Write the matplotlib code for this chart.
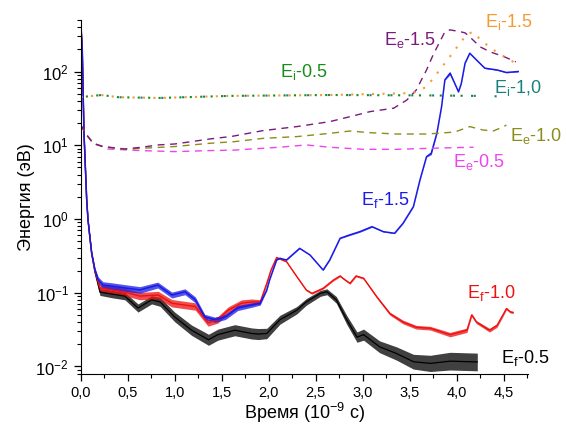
## energy vs time, log scale; curves
import numpy as np
import matplotlib
matplotlib.use('Agg')
import matplotlib.pyplot as plt
from matplotlib import ticker
from matplotlib.ticker import MultipleLocator, LogLocator

plt.rcParams['font.family'] = ['Liberation Sans', 'DejaVu Sans']
plt.rcParams['mathtext.fontset'] = 'custom'
plt.rcParams['mathtext.rm'] = 'Liberation Sans'
plt.rcParams['mathtext.it'] = 'Liberation Sans'

######## data (time in 1e-9 s, energy in eV)
# E_f, 1.5 (blue)
t_f15 = [0, 0.017, 0.035, 0.064, 0.078, 0.099, 0.117, 0.152, 0.187, 0.237, 0.33, 0.47, 0.63,
         0.82, 0.97, 1.11, 1.22, 1.32, 1.43, 1.54, 1.67, 1.82, 1.91, 1.98, 2.01, 2.085, 2.12,
         2.19, 2.33, 2.44, 2.58, 2.65, 2.76, 2.86, 2.97, 3.10, 3.22, 3.34, 3.43, 3.54, 3.61,
         3.68, 3.73, 3.79, 3.84, 3.875, 3.93, 3.98, 4.02, 4.05, 4.09, 4.14, 4.21, 4.30, 4.43,
         4.53, 4.655]
e_f15 = [500, 195, 14.8, 1.81, 0.97, 0.55, 0.346, 0.203, 0.149, 0.127, 0.123, 0.116, 0.109,
         0.127, 0.093, 0.103, 0.080, 0.047, 0.043, 0.047, 0.062, 0.068, 0.072, 0.109, 0.149,
         0.278, 0.293, 0.278, 0.40, 0.325, 0.203, 0.278, 0.547, 0.607, 0.673, 0.787, 0.673,
         0.64, 0.875, 1.47, 3.38, 7.0, 7.8, 14.5, 33.4, 77, 95, 69, 53, 69, 130, 177, 144, 111,
         105, 97, 100]
s_f15 = [0.005, 0.005, 0.005, 0.005, 0.01, 0.015, 0.02, 0.03, 0.04, 0.045, 0.045, 0.045, 0.045,
         0.04, 0.04, 0.04, 0.04, 0.035, 0.035, 0.035, 0.035, 0.03, 0.025, 0.01, 0.005, 0.005,
         0.005, 0.005, 0.005, 0.005, 0.005, 0.005, 0.005, 0.008, 0.008, 0.008, 0.005, 0.005,
         0.005, 0.005, 0.005, 0.005, 0.02, 0.005, 0.005, 0.005, 0.02, 0.005, 0.005, 0.005,
         0.005, 0.005, 0.005, 0.005, 0.005, 0.005, 0.005]

# E_f, 1.0 (red)
t_f10 = [0, 0.017, 0.035, 0.064, 0.078, 0.099, 0.117, 0.152, 0.205, 0.33, 0.47, 0.63, 0.825,
         0.97, 1.11, 1.22, 1.355, 1.46, 1.57, 1.71, 1.82, 1.91, 1.98, 2.025, 2.085, 2.19, 2.30,
         2.40, 2.46, 2.58, 2.69, 2.76, 2.79, 2.865, 2.93, 3.01, 3.15, 3.29, 3.43, 3.57, 3.72,
         3.93, 4.11, 4.16, 4.21, 4.35, 4.43, 4.50, 4.53, 4.57, 4.60]
e_f10 = [500, 195, 14.8, 1.81, 0.97, 0.55, 0.34, 0.195, 0.116, 0.109, 0.102, 0.090, 0.093,
         0.072, 0.068, 0.065, 0.039, 0.043, 0.058, 0.072, 0.075, 0.075, 0.134, 0.203, 0.30,
         0.264, 0.165, 0.109, 0.098, 0.115, 0.149, 0.169, 0.157, 0.134, 0.169, 0.157, 0.088,
         0.052, 0.040, 0.034, 0.033, 0.027, 0.031, 0.050, 0.040, 0.031, 0.036, 0.052, 0.061,
         0.055, 0.054]
s_f10 = [0.005, 0.005, 0.005, 0.005, 0.01, 0.015, 0.02, 0.03, 0.045, 0.05, 0.05, 0.05, 0.05,
         0.05, 0.05, 0.05, 0.045, 0.045, 0.045, 0.045, 0.04, 0.03, 0.015, 0.01, 0.008, 0.008,
         0.01, 0.012, 0.012, 0.012, 0.012, 0.012, 0.012, 0.012, 0.012, 0.012, 0.015, 0.02,
         0.025, 0.025, 0.025, 0.03, 0.03, 0.02, 0.02, 0.025, 0.025, 0.02, 0.015, 0.015, 0.015]

# E_f, 0.5 (black)
t_f05 = [0, 0.017, 0.035, 0.064, 0.078, 0.099, 0.117, 0.152, 0.205, 0.33, 0.47, 0.61, 0.755,
         0.845, 1.00, 1.18, 1.36, 1.46, 1.64, 1.82, 1.89, 1.98, 2.12, 2.30, 2.40, 2.55, 2.62,
         2.72, 2.83, 2.94, 3.01, 3.18, 3.36, 3.54, 3.72, 3.93, 4.22]
e_f05 = [500, 195, 14.8, 1.81, 0.97, 0.55, 0.34, 0.19, 0.102, 0.096, 0.090, 0.062, 0.080,
         0.075, 0.047, 0.031, 0.023, 0.027, 0.031, 0.028, 0.0275, 0.028, 0.043, 0.058, 0.075,
         0.098, 0.103, 0.080, 0.043, 0.025, 0.027, 0.0185, 0.015, 0.0116, 0.011, 0.0118, 0.0115]
s_f05 = [0.005, 0.005, 0.005, 0.005, 0.01, 0.015, 0.02, 0.03, 0.045, 0.05, 0.05, 0.055, 0.055,
         0.06, 0.065, 0.07, 0.075, 0.075, 0.075, 0.075, 0.075, 0.07, 0.06, 0.05, 0.045, 0.04,
         0.04, 0.045, 0.06, 0.07, 0.075, 0.08, 0.09, 0.1, 0.11, 0.12, 0.12]

# E_e (dashed)
t_e15 = [0, 0.064, 0.134, 0.24, 0.47, 0.65, 0.825, 1.00, 1.18, 1.36, 1.61, 1.94, 2.30, 2.65,
         2.865, 3.08, 3.33, 3.47, 3.57, 3.68, 3.75, 3.82, 3.875, 3.93, 4.035, 4.09, 4.14, 4.25,
         4.355, 4.51, 4.63]
e_e15 = [18.8, 13.8, 10.6, 9.6, 8.9, 9.4, 10.1, 10.4, 11.2, 12.1, 13.2, 15.8, 17.9, 20.9, 24.4,
         28.6, 31.8, 41, 56, 105, 168, 252, 345, 367, 348, 334, 295, 216, 185, 158, 135]
t_e10 = [0, 0.064, 0.134, 0.24, 0.47, 0.65, 1.00, 1.36, 1.64, 1.94, 2.30, 2.65, 2.865, 3.08,
         3.36, 3.68, 3.98, 4.14, 4.28, 4.39, 4.50, 4.53]
e_e10 = [18.8, 13.8, 10.6, 9.5, 8.8, 9.1, 9.6, 10.6, 11.2, 12.4, 13.1, 14.5, 15.6, 14.8, 14.2,
         14.2, 15.1, 17.9, 16.1, 15.6, 17.9, 18.8]
t_e05 = [0, 0.064, 0.134, 0.24, 0.29, 0.65, 1.00, 1.36, 1.64, 2.12, 2.40, 2.65, 3.01, 3.36,
         3.72, 4.18]
e_e05 = [18.8, 13.8, 10.6, 9.5, 8.9, 8.45, 8.2, 8.45, 8.6, 9.4, 10.1, 9.4, 8.8, 8.8, 9.1, 9.4]

# E_i (dotted)
t_i05 = [0, 0.22, 0.40, 0.84, 1.59, 2.65, 3.72, 4.22]
e_i05 = [45, 48, 44.8, 43.8, 46.7, 48, 47.4, 46.7]
t_i10 = [0, 0.22, 0.40, 0.84, 1.59, 2.65, 3.72, 4.22, 4.57]
e_i10 = [45, 48, 44.8, 43.8, 46.7, 48, 47.4, 46.7, 45.7]
t_i15 = [0, 0.22, 0.40, 0.84, 1.59, 2.65, 3.535, 3.68, 3.82, 3.93, 4.035, 4.105, 4.17, 4.28,
         4.41, 4.51, 4.64]
e_i15 = [45, 48, 44.8, 43.8, 46.7, 48, 51, 62, 105, 160, 242, 314, 345, 252, 190, 158, 127]

# curve labels: text, time, energy
lab_txt = ['E$_e$-1.5', 'E$_i$-1.5', 'E$_i$-0.5', 'E$_i$-1,0', 'E$_e$-1.0', 'E$_e$-0.5',
           'E$_f$-1.5', 'E$_f$-1.0', 'E$_f$-0.5']
lab_t = [3.50, 4.56, 2.37, 4.65, 4.84, 4.24, 3.24, 4.37, 4.73]
lab_e = [270, 470, 99, 60, 13.4, 5.9, 1.81, 0.099, 0.013]
lab_c = ['#7a1a7a', '#f59a33', '#1a8c1a', '#1a8080', '#8c8c1a', '#ee44ee',
         '#1a1ae6', '#ee1111', 'black']

########
fig = plt.figure(figsize=(5.67, 4.25), dpi=100)
ax = fig.add_axes([0.1423, 0.12, 0.789, 0.833])

def noisy(t, e, s, c, lw):
    e = np.array(e, dtype=float)
    s = np.array(s)
    ax.fill_between(t, e * 10**(-s), e * 10**s, color=c, lw=0, alpha=0.75)
    ax.plot(t, e, color=c, lw=lw)

noisy(t_f05, e_f05, s_f05, 'black', 0.9)
noisy(t_f10, e_f10, s_f10, '#ee1111', 1.0)
noisy(t_f15, e_f15, s_f15, '#1a1ae6', 1.1)

ax.plot(t_e05, e_e05, color='#ee44ee', lw=1.0, ls=(0, (5, 4)))
ax.plot(t_e10, e_e10, color='#8c8c1a', lw=1.0, ls=(0, (5, 4)))
ax.plot(t_e15, e_e15, color='#7a1a7a', lw=1.0, ls=(0, (5, 4)))

ax.plot(t_i15, e_i15, color='#f59a33', lw=1.5, ls=(0, (1, 4)))
ax.plot(t_i05, e_i05, color='#1a8c1a', lw=1.5, ls=(2.5, (1, 4)))
ax.plot(t_i10, e_i10, color='#1a8080', lw=1.5, ls=(1.2, (1, 9)))

ax.set_yscale('log')
ax.set_xlim(0, 4.76)
ax.set_ylim(0.0079, 500)
ax.spines['top'].set_visible(False)
ax.spines['right'].set_visible(False)
ax.xaxis.set_major_locator(MultipleLocator(0.5))
ax.xaxis.set_minor_locator(MultipleLocator(0.25))
ax.xaxis.set_major_formatter(ticker.FuncFormatter(lambda v, p: ('%.1f' % v).replace('.', ',')))
ax.yaxis.set_major_locator(LogLocator(base=10, numticks=10))
ax.yaxis.set_minor_locator(LogLocator(base=10, subs=np.arange(2, 10), numticks=10))
ax.tick_params(which='major', direction='out', length=5, width=0.9, labelsize=10.5)
ax.tick_params(which='minor', direction='out', length=3, width=0.8)
ax.tick_params(axis='y', labelsize=12)

ax.set_xlabel('Время (10$^{-9}$ с)', fontsize=13, labelpad=1)
ax.set_ylabel('Энергия (эВ)', fontsize=13, labelpad=0)

for txt, t, e, c in zip(lab_txt, lab_t, lab_e, lab_c):
    ax.text(t, e, txt, color=c, fontsize=13, ha='center', va='center')

plt.savefig('out.png', dpi=100)
